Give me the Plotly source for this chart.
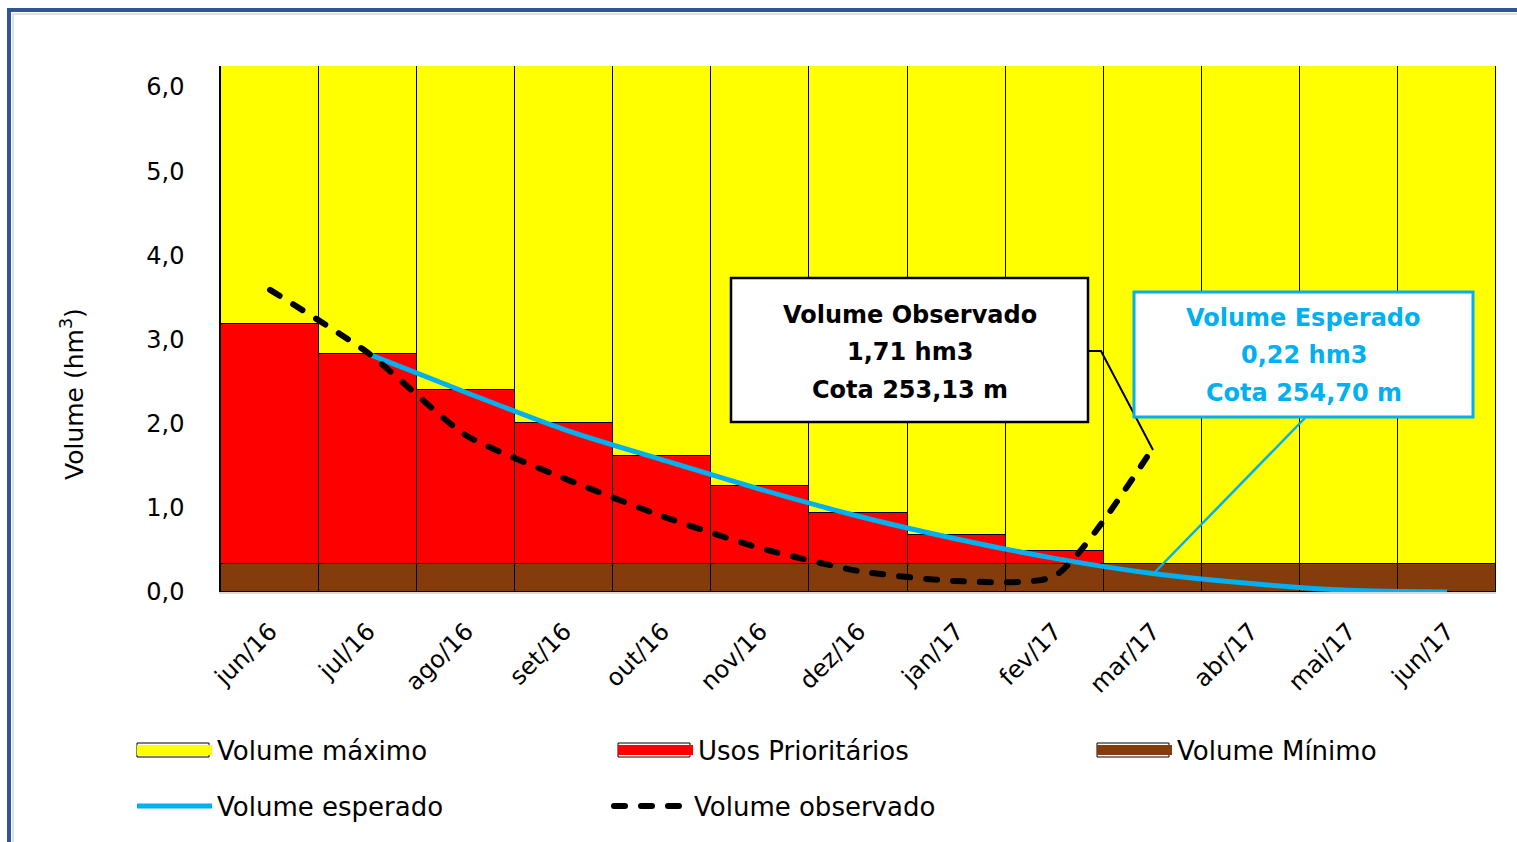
import plotly.graph_objects as go

# ---------------- data ----------------
categories = ["jun/16", "jul/16", "ago/16", "set/16", "out/16", "nov/16", "dez/16",
              "jan/17", "fev/17", "mar/17", "abr/17", "mai/17", "jun/17"]
volume_minimo = [0.33, 0.33, 0.33, 0.33, 0.33, 0.33, 0.33, 0.33, 0.33, 0.33, 0.33, 0.33, 0.33]
usos_prioritarios = [2.86, 2.50, 2.07, 1.68, 1.29, 0.93, 0.61, 0.35, 0.16, 0.0, 0.0, 0.0, 0.0]
volume_maximo = [3.06, 3.42, 3.85, 4.24, 4.63, 4.99, 5.31, 5.57, 5.76, 5.92, 5.92, 5.92, 5.92]
volume_esperado = [None, 2.83, 2.37, 1.93, 1.57, 1.22, 0.90, 0.63, 0.40, 0.22, 0.10, 0.02, 0.0]
volume_observado = [3.59, 2.84, 1.86, 1.35, 0.90, 0.52, 0.25, 0.13, 0.19, 1.71, None, None, None]
y_tick_values = [0, 1, 2, 3, 4, 5, 6]
y_tick_labels = ["0,0", "1,0", "2,0", "3,0", "4,0", "5,0", "6,0"]

obs_box_lines = ["Volume Observado", "1,71 hm3", "Cota 253,13 m"]
esp_box_lines = ["Volume Esperado", "0,22 hm3", "Cota 254,70 m"]

# ---------------- styling ----------------
YELLOW = "#FFFF00"
RED = "#FF0000"
BROWN = "#843C0C"
CYAN = "#00B0F0"
FRAME = "#2F5597"
FONT = "DejaVu Sans"

W, H = 1517, 842
ML, MR, MT, MB = 221, 21, 66, 250
PW, PH = W - ML - MR, H - MT - MB


def px(x):
    return (x - ML) / PW


def py(y):
    return (H - MB - y) / PH


fig = go.Figure()

bar_line = dict(color="black", width=1.5)
fig.add_trace(go.Bar(x=categories, y=volume_minimo, name="Volume Mínimo",
                     marker=dict(color=BROWN, line=bar_line), showlegend=False))
fig.add_trace(go.Bar(x=categories, y=usos_prioritarios, name="Usos Prioritários",
                     marker=dict(color=RED, line=bar_line), showlegend=False))
fig.add_trace(go.Bar(x=categories, y=volume_maximo, name="Volume máximo",
                     marker=dict(color=YELLOW, line=bar_line), showlegend=False))

fig.add_trace(go.Scatter(x=categories, y=volume_esperado, mode="lines", name="Volume esperado",
                         line=dict(color=CYAN, width=5, shape="spline", smoothing=0.8),
                         legend="legend4"))
fig.add_trace(go.Scatter(x=categories, y=volume_observado, mode="lines", name="Volume observado",
                         line=dict(color="black", width=6, shape="spline", smoothing=0.6,
                                   dash="11px,16px"),
                         legend="legend5"))

# legend swatches for the stacked bars
for name, col, lg in [("Volume máximo", YELLOW, "legend"),
                      ("Usos Prioritários", RED, "legend2"),
                      ("Volume Mínimo", BROWN, "legend3")]:
    fig.add_trace(go.Scatter(x=[None], y=[None], mode="lines", name=name,
                             line=dict(color=col, width=14), legend=lg))

shapes = [
    # outer blue frame
    dict(type="path", xref="paper", yref="paper",
         path=f"M{px(9)},{py(900)} L{px(9)},{py(10)} L{px(1540)},{py(10)}",
         line=dict(color=FRAME, width=4)),
    dict(type="path", xref="paper", yref="paper",
         path=f"M{px(13)},{py(900)} L{px(13)},{py(14)} L{px(1540)},{py(14)}",
         line=dict(color="#D6D6D6", width=1.5)),
    # leader lines
    dict(type="path", xref="paper", yref="paper",
         path=f"M{px(1088)},{py(351)} L{px(1101)},{py(351)} L{px(1153)},{py(450)}",
         line=dict(color="black", width=2)),
    dict(type="path", xref="paper", yref="paper",
         path=f"M{px(1305)},{py(418)} L{px(1155)},{py(572)}",
         line=dict(color=CYAN, width=2.5)),
    # callout boxes
    dict(type="rect", xref="paper", yref="paper",
         x0=px(731), x1=px(1088), y0=py(422), y1=py(278),
         fillcolor="white", line=dict(color="black", width=2.5)),
    dict(type="rect", xref="paper", yref="paper",
         x0=px(1134), x1=px(1473), y0=py(417), y1=py(292),
         fillcolor="white", line=dict(color=CYAN, width=3)),
]
# thin outlines around the bar legend swatches
for x0 in (137, 618, 1097):
    shapes.append(dict(type="rect", xref="paper", yref="paper",
                       x0=px(x0), x1=px(x0 + 72), y0=py(757), y1=py(743),
                       fillcolor="rgba(0,0,0,0)", line=dict(color="black", width=1)))

annotations = []
for txt, yy in zip(obs_box_lines, [315, 352, 390]):
    annotations.append(dict(xref="paper", yref="paper", x=px(909.5), y=py(yy), text=txt,
                            showarrow=False, xanchor="center", yanchor="middle",
                            font=dict(family=FONT, size=24, color="black", weight="bold")))
for txt, yy in zip(esp_box_lines, [318, 355, 393]):
    annotations.append(dict(xref="paper", yref="paper", x=px(1303.5), y=py(yy), text=txt,
                            showarrow=False, xanchor="center", yanchor="middle",
                            font=dict(family=FONT, size=24, color=CYAN, weight="bold")))
# y-axis title
annotations.append(dict(xref="paper", yref="paper", x=px(72), y=py(394),
                        text="Volume (hm<sup>3</sup>)", textangle=-90, showarrow=False,
                        xanchor="center", yanchor="middle",
                        font=dict(family=FONT, size=25, color="black")))


def legend_at(xpix, ypix):
    return dict(orientation="h", xanchor="left", yanchor="middle",
                x=px(xpix), y=py(ypix), itemwidth=75,
                font=dict(family=FONT, size=26, color="black"),
                bgcolor="rgba(0,0,0,0)", itemclick=False, itemdoubleclick=False)


fig.update_layout(
    width=W, height=H,
    margin=dict(l=ML, r=MR, t=MT, b=MB, pad=0),
    paper_bgcolor="white", plot_bgcolor="white",
    barmode="stack", bargap=0,
    font=dict(family=FONT, size=22, color="black"),
    shapes=shapes, annotations=annotations,
    legend=legend_at(132, 750),
    legend2=legend_at(613, 750),
    legend3=legend_at(1092, 750),
    legend4=legend_at(132, 806),
    legend5=legend_at(609, 806),
    xaxis=dict(showgrid=False, zeroline=False, showline=True, linecolor="#D9D9D9", linewidth=1.5,
               tickangle=-45, ticks="", ticklabelstandoff=14,
               tickfont=dict(family=FONT, size=24, color="black")),
    yaxis=dict(range=[0, 6.25], showgrid=False, zeroline=False, showline=True,
               linecolor="black", linewidth=1.5, ticks="",
               tickvals=y_tick_values, ticktext=y_tick_labels, ticklabelstandoff=30,
               tickfont=dict(family=FONT, size=24, color="black")),
)

post = (
    "document.body.style.margin='0';document.body.style.overflow='hidden';"
    "document.querySelectorAll('path.js-line').forEach(function(p){"
    "var d=p.style.strokeDasharray;"
    "if(d && d!=='none'){p.style.strokeLinecap='round';p.style.strokeLinejoin='round';}});"
)
fig.write_html("out.html", config={"displayModeBar": False}, post_script=post)
